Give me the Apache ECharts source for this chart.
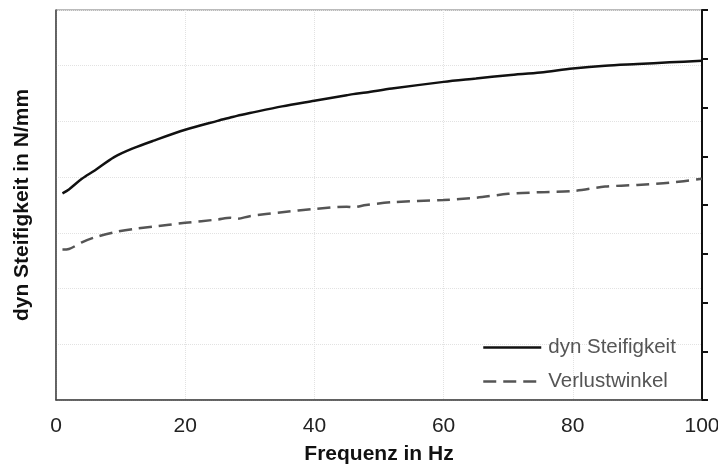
<!DOCTYPE html>
<html>
<head>
<meta charset="utf-8">
<script src="https://cdn.jsdelivr.net/npm/echarts@6/dist/echarts.min.js"></script>
<style>
    html, body { margin: 0; padding: 0; background: #fff; }
    #chart { width: 718px; height: 469px; }
</style>
</head>
<body>
<div id="chart"></div>
<script>
// Frequenz in Hz
var frequenz = [1, 2, 4, 6, 9, 12, 15, 20, 25, 27, 28, 30, 35, 40, 45, 46, 48, 52, 60, 65, 70, 75, 80, 85, 90, 95, 100];
// dyn Steifigkeit (relative Einheiten, linke Achse)
var steifigkeit = [3.71, 3.78, 3.97, 4.12, 4.36, 4.52, 4.65, 4.85, 5.01, 5.07, 5.10, 5.15, 5.27, 5.37, 5.47, 5.49, 5.52, 5.59, 5.71, 5.77, 5.83, 5.88, 5.95, 6.00, 6.03, 6.06, 6.09];
// Verlustwinkel (relative Einheiten, linke Achse)
var verlustwinkel = [2.70, 2.71, 2.83, 2.92, 3.01, 3.07, 3.11, 3.18, 3.24, 3.27, 3.25, 3.30, 3.37, 3.43, 3.47, 3.46, 3.50, 3.55, 3.59, 3.63, 3.70, 3.73, 3.75, 3.83, 3.86, 3.90, 3.97];

var fontFamily = 'Liberation Sans, Arial, sans-serif';

function pairs(xs, ys) {
    var out = [];
    for (var i = 0; i < xs.length; i++) {
        out.push([xs[i], ys[i]]);
    }
    return out;
}

var chart = echarts.init(document.getElementById('chart'), null, { renderer: 'canvas' });
chart.setOption({
    backgroundColor: '#fff',
    animation: false,
    textStyle: { fontFamily: fontFamily },
    grid: {
        left: 56, right: 16, top: 10, bottom: 69,
        outerBoundsMode: 'none',
        containLabel: false,
        show: true,
        borderColor: '#777',
        borderWidth: 1
    },
    legend: {
        orient: 'vertical',
        left: 482,
        top: 337,
        padding: 0,
        itemWidth: 58,
        itemHeight: 24,
        itemGap: 13,
        itemStyle: { opacity: 0 },
        lineStyle: { width: 2.5 },
        textStyle: { color: '#555', fontSize: 20.5, fontFamily: fontFamily, padding: [0, 0, 0, 2] },
        data: ['dyn Steifigkeit', 'Verlustwinkel']
    },
    xAxis: {
        type: 'value',
        min: 0, max: 100, interval: 20,
        name: 'Frequenz in Hz',
        nameLocation: 'middle',
        nameGap: 44,
        nameTextStyle: { fontSize: 21, fontWeight: 'bold', color: '#111' },
        axisLine: { lineStyle: { color: '#444', width: 1.5 } },
        axisTick: { show: false },
        axisLabel: { fontSize: 21, color: '#222', margin: 16 },
        splitLine: { show: true, lineStyle: { color: '#e2e2e2', type: 'dotted', width: 1 } }
    },
    yAxis: [{
        type: 'value',
        min: 0, max: 7, interval: 1,
        name: 'dyn Steifigkeit in N/mm',
        nameLocation: 'middle',
        nameGap: 23,
        nameTextStyle: { fontSize: 21, fontWeight: 'bold', color: '#111' },
        axisLine: { show: true, lineStyle: { color: '#444', width: 1.5 } },
        axisTick: { show: false },
        axisLabel: { show: false },
        splitLine: { show: true, lineStyle: { color: '#e2e2e2', type: 'dotted', width: 1 } }
    }, {
        type: 'value',
        position: 'right',
        min: 0, max: 8, interval: 1,
        axisLine: { show: true, lineStyle: { color: '#111', width: 2 } },
        axisTick: { show: true, inside: false, length: 6, lineStyle: { color: '#111', width: 2 } },
        axisLabel: { show: false },
        splitLine: { show: false }
    }],
    series: [{
        name: 'dyn Steifigkeit',
        type: 'line',
        yAxisIndex: 0,
        symbol: 'none',
        smooth: 0.3,
        lineStyle: { color: '#111', width: 2.5 },
        itemStyle: { color: '#111' },
        data: pairs(frequenz, steifigkeit)
    }, {
        name: 'Verlustwinkel',
        type: 'line',
        yAxisIndex: 0,
        symbol: 'none',
        smooth: 0.3,
        lineStyle: { color: '#555', width: 2.5, type: [13, 7] },
        itemStyle: { color: '#555' },
        data: pairs(frequenz, verlustwinkel)
    }]
});
</script>
</body>
</html>
